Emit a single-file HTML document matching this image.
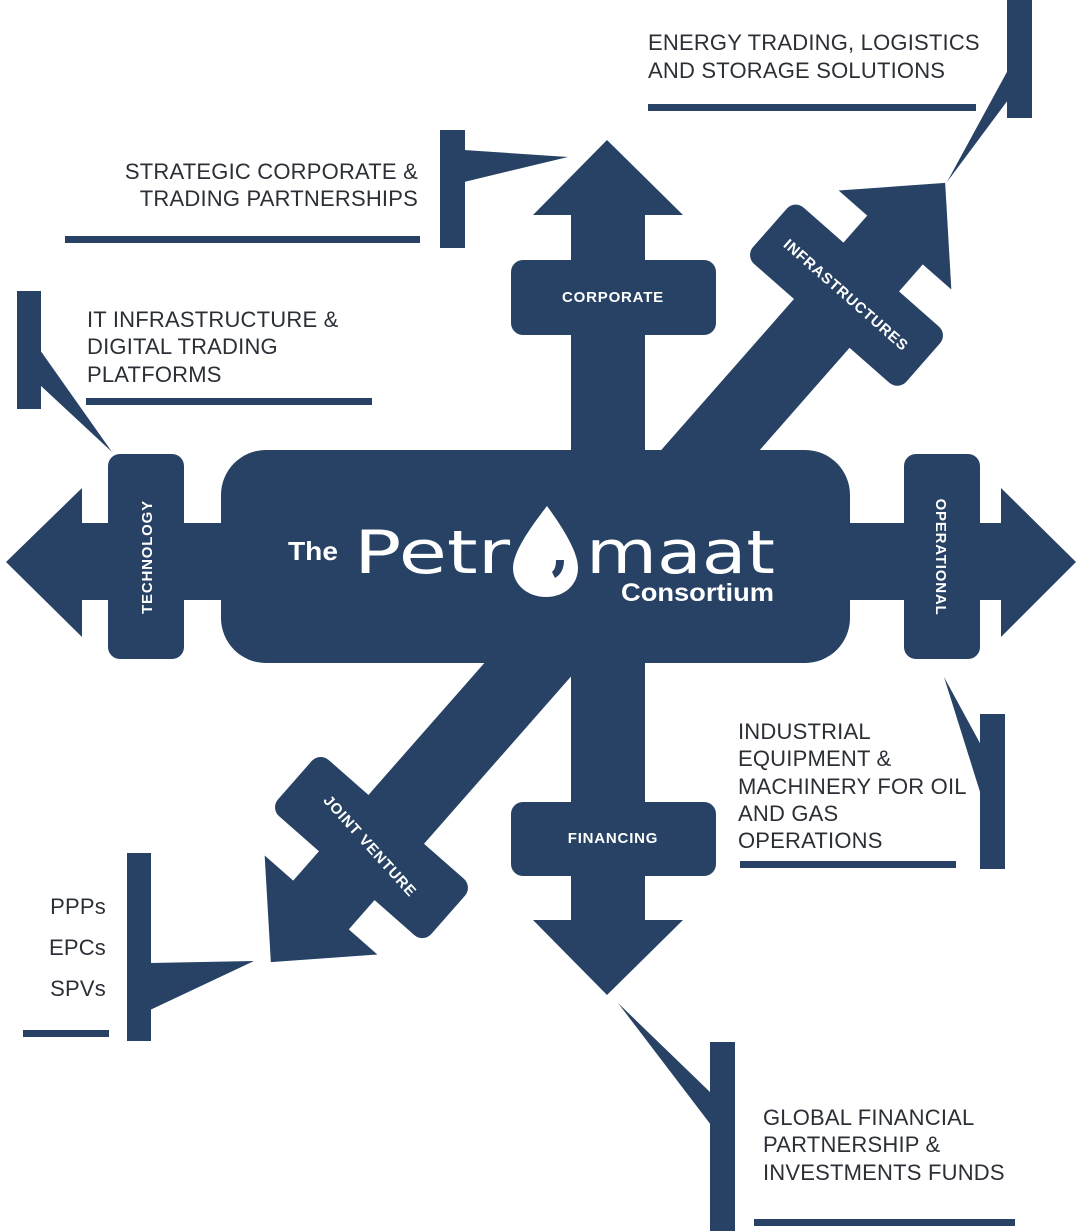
<!DOCTYPE html>
<html><head><meta charset="utf-8"><style>
html,body{margin:0;padding:0;background:#fff;}
svg{display:block;}
.t{font-family:"Liberation Sans",sans-serif;font-size:22px;fill:#2b2f36;letter-spacing:0.2px;}
.w{font-family:"Liberation Sans",sans-serif;font-weight:bold;font-size:15px;fill:#fff;letter-spacing:0.8px;}
</style></head><body>
<svg width="1079" height="1231" viewBox="0 0 1079 1231" xmlns="http://www.w3.org/2000/svg">
<g fill="#274264">
<rect x="571" y="210" width="74" height="720"/>
<polygon points="607,140 683,215 533,215"/>
<polygon points="607,995 683,920 533,920"/>
<rect x="511" y="260" width="205" height="75" rx="12"/>
<rect x="511" y="802" width="205" height="74" rx="12"/>
<rect x="78" y="523" width="927" height="77"/>
<polygon points="6,562 82,488 82,637"/>
<polygon points="1076,562 1001,488 1001,637"/>
<rect x="108" y="454" width="76" height="205" rx="12"/>
<rect x="904" y="454" width="76" height="205" rx="12"/>
<g transform="translate(895,240) rotate(-48.7)">
<rect x="-440" y="-37" width="445" height="74"/>
<polygon points="76,0 0,-75 0,75"/>
<rect x="-111" y="-102" width="75" height="204" rx="12"/>
</g>
<g transform="translate(321,905) rotate(131.3)">
<rect x="-440" y="-37" width="445" height="74"/>
<polygon points="76,0 0,-75 0,75"/>
<rect x="-114" y="-102" width="75" height="204" rx="12"/>
</g>
<rect x="221" y="450" width="629" height="213" rx="45"/>
<rect x="1007" y="0" width="25" height="118"/>
<polygon points="1008,70 1008,100 947,182"/>
<rect x="648" y="104" width="328" height="7"/>
<rect x="440" y="130" width="25" height="118"/>
<polygon points="464,150 464,182 568,157"/>
<rect x="65" y="236" width="355" height="7"/>
<rect x="17" y="291" width="24" height="118"/>
<polygon points="40,350 40,385 112,452"/>
<rect x="86" y="398" width="286" height="7"/>
<rect x="980" y="714" width="25" height="155"/>
<polygon points="944,677 981,745 981,795"/>
<rect x="740" y="861" width="216" height="7"/>
<rect x="127" y="853" width="24" height="188"/>
<polygon points="150,963 254,961 150,1010"/>
<rect x="23" y="1030" width="86" height="7"/>
<rect x="710" y="1042" width="25" height="189"/>
<polygon points="618,1003 711,1093 711,1125"/>
<rect x="754" y="1219" width="261" height="7"/>
</g>
<text class="w" x="613" y="302" text-anchor="middle">CORPORATE</text>
<text class="w" x="613" y="843" text-anchor="middle">FINANCING</text>
<text class="w" transform="translate(152,557) rotate(-90)" text-anchor="middle">TECHNOLOGY</text>
<text class="w" transform="translate(936,557) rotate(90)" text-anchor="middle">OPERATIONAL</text>
<text class="w" transform="translate(846,295) rotate(41.3)" text-anchor="middle" dy="5">INFRASTRUCTURES</text>
<text class="w" transform="translate(370,846) rotate(48)" text-anchor="middle" dy="5">JOINT VENTURE</text>
<text x="288" y="560" font-family="Liberation Sans,sans-serif" font-weight="bold" font-size="26" fill="#fff" textLength="50" lengthAdjust="spacingAndGlyphs">The</text>
<text x="354" y="573" font-family="DejaVu Sans,sans-serif" font-size="60" fill="#fff" textLength="156" lengthAdjust="spacingAndGlyphs">Petr</text>
<path d="M547,506 C530,528 513,552 513,568 C513,585 528,597 546,597 C564,597 578,585 578,568 C578,552 563,528 547,506 Z" fill="#fff"/>
<path d="M556,560 L564,560 C564,570 560,575 555,578 L552,572 C555,569 556,566 556,560 Z" fill="#274264"/>
<text x="586" y="573" font-family="DejaVu Sans,sans-serif" font-size="60" fill="#fff" textLength="189" lengthAdjust="spacingAndGlyphs">maat</text>
<text x="621" y="601" font-family="Liberation Sans,sans-serif" font-weight="bold" font-size="25" fill="#fff" textLength="153" lengthAdjust="spacingAndGlyphs">Consortium</text>
<text class="t" x="648" y="50">ENERGY TRADING, LOGISTICS</text>
<text class="t" x="648" y="78">AND STORAGE SOLUTIONS</text>
<text class="t" x="418" y="179" text-anchor="end">STRATEGIC CORPORATE &amp;</text>
<text class="t" x="418" y="206" text-anchor="end">TRADING PARTNERSHIPS</text>
<text class="t" x="87" y="327">IT INFRASTRUCTURE &amp;</text>
<text class="t" x="87" y="354">DIGITAL TRADING</text>
<text class="t" x="87" y="382">PLATFORMS</text>
<text class="t" x="738" y="739">INDUSTRIAL</text>
<text class="t" x="738" y="766">EQUIPMENT &amp;</text>
<text class="t" x="738" y="794">MACHINERY FOR OIL</text>
<text class="t" x="738" y="821">AND GAS</text>
<text class="t" x="738" y="848">OPERATIONS</text>
<text class="t" x="106" y="914" text-anchor="end">PPPs</text>
<text class="t" x="106" y="955" text-anchor="end">EPCs</text>
<text class="t" x="106" y="996" text-anchor="end">SPVs</text>
<text class="t" x="763" y="1125">GLOBAL FINANCIAL</text>
<text class="t" x="763" y="1152">PARTNERSHIP &amp;</text>
<text class="t" x="763" y="1180">INVESTMENTS FUNDS</text>
</svg>
</body></html>
